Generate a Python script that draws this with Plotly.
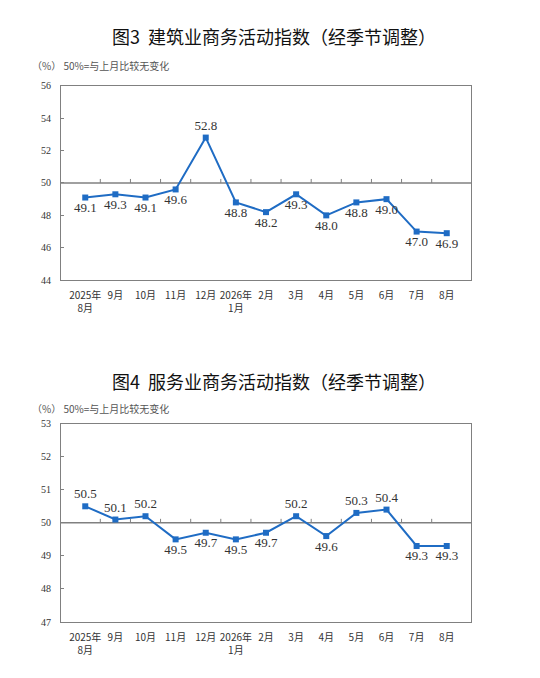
import plotly.graph_objects as go
from plotly.subplots import make_subplots

# 月份（横轴）
months = ['2025年<br>8月', '9月', '10月', '11月', '12月', '2026年<br>1月', '2月',
          '3月', '4月', '5月', '6月', '7月', '8月']

# 图3 建筑业商务活动指数
construction = [49.1, 49.3, 49.1, 49.6, 52.8, 48.8, 48.2, 49.3, 48.0, 48.8, 49.0, 47.0, 46.9]
construction_pos = ['bottom center'] * 4 + ['top center'] + ['bottom center'] * 8

# 图4 服务业商务活动指数
services = [50.5, 50.1, 50.2, 49.5, 49.7, 49.5, 49.7, 50.2, 49.6, 50.3, 50.4, 49.3, 49.3]
services_pos = ['top center', 'top center', 'top center', 'bottom center', 'bottom center',
                'bottom center', 'bottom center', 'top center', 'bottom center',
                'top center', 'top center', 'bottom center', 'bottom center']

titles = ['图3  建筑业商务活动指数（经季节调整）', '图4  服务业商务活动指数（经季节调整）']
note = '（%） 50%=与上月比较无变化'

BLUE = '#1f6cc4'
GRID = '#808080'
SERIF = 'Liberation Serif, Times New Roman, serif'
CJK = 'Noto Sans CJK SC'

# page body has an 8px margin, so positions below are shifted up/left by 8
W, H = 540.0, 678.0
fig = make_subplots(rows=2, cols=1)

for row, vals, pos in [(1, construction, construction_pos), (2, services, services_pos)]:
    fig.add_trace(go.Scatter(
        x=months, y=vals, mode='lines+markers+text',
        text=[f'{v:.1f}' for v in vals], textposition=pos,
        textfont=dict(family=SERIF, size=13, color='#333333'),
        line=dict(color=BLUE, width=2),
        marker=dict(symbol='square', size=6, color=BLUE),
        cliponaxis=False, showlegend=False), row=row, col=1)

axis_common = dict(showline=True, linecolor=GRID, linewidth=1, mirror=True,
                   showgrid=False, zeroline=False)

fig.update_xaxes(axis_common, tickfont=dict(family=CJK, size=10, color='#333333'),
                 ticks='', ticklabelstandoff=6, domain=[53 / W, 463 / W])
fig.update_yaxes(axis_common, tickfont=dict(family=SERIF, size=10, color='#333333'),
                 ticks='inside', ticklen=3, tickcolor=GRID, ticklabelstandoff=7)

fig.update_layout(
    yaxis=dict(range=[44, 56], dtick=2, domain=[1 - 271 / H, 1 - 73 / H]),
    yaxis2=dict(range=[47, 53], dtick=1, domain=[1 - 619 / H, 1 - 417 / H]),
)

# 50 基准线及其刻度
for xref, yref in [('x', 'y'), ('x2', 'y2')]:
    fig.add_shape(type='line', xref=f'{xref} domain', yref=yref, x0=0, x1=1, y0=50, y1=50,
                  line=dict(color=GRID, width=1.5), layer='below')
    for i in range(1, len(months)):
        fig.add_shape(type='line', xref=xref, yref=yref, ysizemode='pixel', yanchor=50,
                      x0=i - 0.5, x1=i - 0.5, y0=0, y1=4,
                      line=dict(color=GRID, width=1), layer='below')

for ty, ny, t in [(22, 52, titles[0]), (374, 402, titles[1])]:
    fig.add_annotation(text=t, xref='paper', yref='paper', x=266 / W, y=1 - ty / H,
                       xanchor='center', yanchor='middle', showarrow=False,
                       font=dict(family=CJK, size=18, color='#111111'))
    fig.add_annotation(text=note, xref='paper', yref='paper', x=22 / W, y=1 - ny / H,
                       xanchor='left', yanchor='middle', showarrow=False,
                       font=dict(family=CJK, size=10, color='#555555'))

fig.update_layout(width=540, height=678, margin=dict(l=0, r=0, t=0, b=0),
                  plot_bgcolor='white', paper_bgcolor='white')

fig.write_html('out.html')
